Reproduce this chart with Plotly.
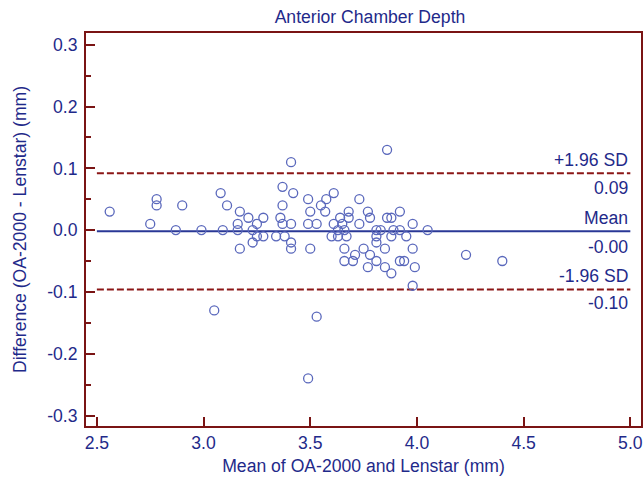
import plotly.graph_objects as go

# Bland-Altman data: mean of the two methods (x) and difference (y)
mean_vals = [2.56, 2.78, 2.78, 2.75, 2.87, 2.90, 2.99, 3.08, 3.11, 3.09,
             3.17, 3.16, 3.16, 3.21, 3.17, 3.23, 3.23, 3.25, 3.25, 3.05,
             3.53, 3.49, 3.86, 3.41, 3.37, 3.42, 3.61, 3.49, 3.575, 3.73,
             3.37, 3.55, 3.50, 3.57, 3.68, 3.77, 3.92, 3.28, 3.36, 3.64,
             3.68, 3.78, 3.86, 3.88, 3.37, 3.41, 3.49, 3.53, 3.61, 3.65,
             3.73, 3.98, 3.63, 3.66, 3.81, 3.83, 3.89, 3.92, 4.05, 3.28,
             3.34, 3.38, 3.60, 3.63, 3.67, 3.81, 3.88, 3.95, 3.41, 3.81,
             3.41, 3.50, 3.66, 3.75, 3.85, 3.98, 3.71, 3.78, 3.66, 3.70,
             3.81, 3.92, 3.94, 3.77, 3.85, 3.99, 3.88, 3.98, 4.23, 4.40]
diff_vals = [0.03, 0.05, 0.04, 0.01, 0.00, 0.04, 0.00, 0.06, 0.04, 0.00,
             0.03, 0.01, 0.00, 0.02, -0.03, 0.00, -0.02, 0.01, -0.01, -0.13,
             -0.14, -0.24, 0.13, 0.11, 0.07, 0.06, 0.06, 0.05, 0.05, 0.05,
             0.04, 0.04, 0.03, 0.03, 0.03, 0.03, 0.03, 0.02, 0.02, 0.02,
             0.02, 0.02, 0.02, 0.02, 0.01, 0.01, 0.01, 0.01, 0.01, 0.01,
             0.01, 0.01, 0.00, 0.00, 0.00, 0.00, 0.00, 0.00, 0.00, -0.01,
             -0.01, -0.01, -0.01, -0.01, -0.01, -0.01, -0.01, -0.01, -0.02, -0.02,
             -0.03, -0.03, -0.03, -0.03, -0.03, -0.03, -0.04, -0.04, -0.05, -0.05,
             -0.05, -0.05, -0.05, -0.06, -0.06, -0.06, -0.07, -0.09, -0.04, -0.05]

mean_diff = -0.002
upper_loa = 0.092
lower_loa = -0.096
line_x = [2.5, 5.0]

x_tickvals = [2.5, 3.0, 3.5, 4.0, 4.5, 5.0]
x_ticktext = ["2.5", "3.0", "3.5", "4.0", "4.5", "5.0"]
y_tickvals = [-0.3, -0.2, -0.1, 0.0, 0.1, 0.2, 0.3]
y_ticktext = ["-0.3", "-0.2", "-0.1", "0.0", "0.1", "0.2", "0.3"]

TEXT = "#1f2a8a"
AXIS = "#7a1414"
DASH = "#8b1616"
MEANC = "#2a3896"
MARK = "#5a68bc"
FONT = "Liberation Sans, Arial, sans-serif"
FS = 17.6

fig = go.Figure()
fig.add_trace(go.Scatter(x=line_x, y=[upper_loa, upper_loa], mode="lines",
                         line=dict(color=DASH, width=2, dash="7px,3px"), hoverinfo="skip"))
fig.add_trace(go.Scatter(x=line_x, y=[lower_loa, lower_loa], mode="lines",
                         line=dict(color=DASH, width=2, dash="7px,3px"), hoverinfo="skip"))
fig.add_trace(go.Scatter(x=line_x, y=[mean_diff, mean_diff], mode="lines",
                         line=dict(color=MEANC, width=2), hoverinfo="skip"))
fig.add_trace(go.Scatter(x=mean_vals, y=diff_vals, mode="markers",
                         marker=dict(symbol="circle-open", size=9, color=MARK,
                                     line=dict(width=1.3, color=MARK))))

ann = [
    ("+1.96 SD", upper_loa, 13),
    (f"{upper_loa:.2f}", upper_loa, -15),
    ("Mean", mean_diff, 13),
    (f"{mean_diff:.2f}", mean_diff, -16),
    ("-1.96 SD", lower_loa, 13),
    (f"{lower_loa:.2f}", lower_loa, -14),
]
for txt, yv, ys in ann:
    fig.add_annotation(x=5.0, y=yv, xref="x", yref="y", text=txt, showarrow=False,
                       xanchor="right", yanchor="middle", xshift=0, yshift=ys,
                       font=dict(family=FONT, size=FS, color=TEXT))

fig.update_layout(
    width=644, height=477,
    margin=dict(l=86, r=1, t=33, b=51),
    paper_bgcolor="white", plot_bgcolor="white",
    showlegend=False,
    font=dict(family=FONT, size=FS, color=TEXT),
    title=dict(text="Anterior Chamber Depth", x=0.5745, xanchor="center",
               y=0.965, yanchor="middle",
               font=dict(family=FONT, size=FS, color=TEXT)),
)
fig.update_xaxes(range=[2.449, 5.05], tickvals=x_tickvals, ticktext=x_ticktext,
                 showgrid=False, zeroline=False, showline=True, linecolor=AXIS,
                 linewidth=2, mirror=True, ticks="inside", ticklen=9, tickwidth=2,
                 tickcolor=AXIS, tickfont=dict(family=FONT, size=FS, color=TEXT),
                 title=dict(text="Mean of OA-2000 and Lenstar (mm)", standoff=8,
                            font=dict(family=FONT, size=FS, color=TEXT)))
fig.update_yaxes(range=[-0.317, 0.319], tickvals=y_tickvals, ticktext=y_ticktext,
                 showgrid=False, zeroline=False, showline=True, linecolor=AXIS,
                 linewidth=2, mirror=True, ticks="inside", ticklen=9, tickwidth=2,
                 tickcolor=AXIS, tickfont=dict(family=FONT, size=FS, color=TEXT),
                 ticklabelstandoff=3,
                 minor=dict(ticks="inside", ticklen=5, tickwidth=2, tickcolor=AXIS,
                            dtick=0.05, tick0=0.0, showgrid=False),
                 title=dict(text="Difference (OA-2000 - Lenstar) (mm)", standoff=16,
                            font=dict(family=FONT, size=FS, color=TEXT)))

fig.write_html("out.html")
